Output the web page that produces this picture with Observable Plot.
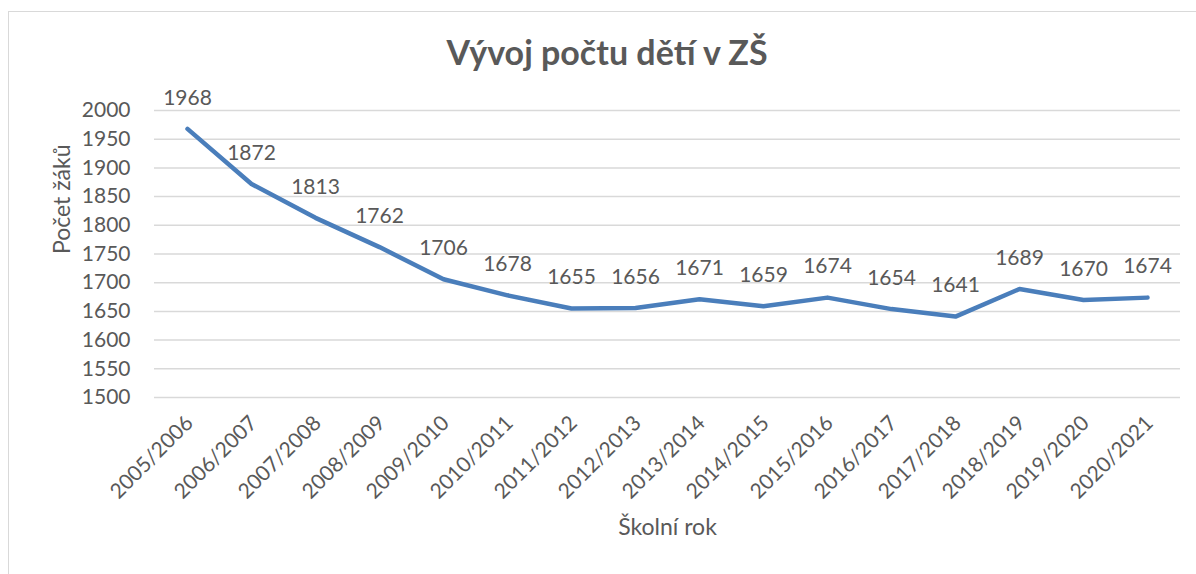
<!DOCTYPE html>
<html>
<head>
<meta charset="utf-8">
<script src="https://cdn.jsdelivr.net/npm/d3@7"></script>
<script src="https://cdn.jsdelivr.net/npm/@observablehq/plot@0.6"></script>
<style>
  html, body { margin: 0; padding: 0; background: #fff; overflow: hidden; }
  #wrap { position: relative; width: 1196px; height: 574px; overflow: hidden; background: #fff; }
  #border { position: absolute; left: 8px; top: 11px; width: 1300px; height: 700px; border: 1.5px solid #d9d9d9; box-sizing: border-box; pointer-events: none; }
  #title { position: relative; height: 80px; box-sizing: border-box; padding-top: 32px; padding-left: 18px; text-align: center;
           font-family: Lato, sans-serif; font-weight: bold; font-size: 34px; line-height: 40px; color: #595959; }
  #chart svg { display: block; }
</style>
</head>
<body>
<div id="wrap">
  <div id="border"></div>
  <div id="title">Vývoj počtu dětí v ZŠ</div>
  <div id="chart"></div>
</div>
<script>
const years = ["2005/2006","2006/2007","2007/2008","2008/2009","2009/2010","2010/2011","2011/2012","2012/2013","2013/2014","2014/2015","2015/2016","2016/2017","2017/2018","2018/2019","2019/2020","2020/2021"];
const pupils = [1968,1872,1813,1762,1706,1678,1655,1656,1671,1659,1674,1654,1641,1689,1670,1674];
const yTicks = [1500,1550,1600,1650,1700,1750,1800,1850,1900,1950,2000];
const titleText = "Vývoj počtu dětí v ZŠ";
const yLabel = "Počet žáků";
const xLabel = "Školní rok";

const data = years.map((y, i) => ({year: y, value: pupils[i]}));
const textColor = "#595959";
const font = "Lato, sans-serif";

const chart = Plot.plot({
  width: 1196,
  height: 494,
  marginTop: 30,
  marginBottom: 177,
  marginLeft: 154,
  marginRight: 16,
  style: {fontFamily: font, fontSize: "21px", color: textColor, background: "transparent"},
  x: {type: "point", domain: years, padding: 0.5},
  y: {domain: [1500, 2000]},
  marks: [
    Plot.gridY(yTicks, {stroke: "#d9d9d9", strokeOpacity: 1, strokeWidth: 1.5}),
    Plot.axisY({ticks: yTicks, tickFormat: d => String(d), tickSize: 0, tickPadding: 24, label: null, fill: textColor, fontSize: 21}),
    Plot.axisX({tickSize: 0, tickPadding: 22, tickRotate: -45, label: null, fill: textColor, fontSize: 21, dx: 2}),
    Plot.line(data, {x: "year", y: "value", stroke: "#4a7ebb", strokeWidth: 4.5, strokeLinejoin: "round", strokeLinecap: "round"}),
    Plot.text(data, {x: "year", y: "value", text: d => String(d.value), dy: -31, fill: textColor, fontSize: 21}),
    Plot.text([yLabel], {frameAnchor: "left", dx: -92, rotate: -90, fill: textColor, fontSize: 23}),
    Plot.text([xLabel], {frameAnchor: "bottom", dy: 137, fill: textColor, fontSize: 23})
  ]
});
document.getElementById("chart").appendChild(chart);
</script>
</body>
</html>
